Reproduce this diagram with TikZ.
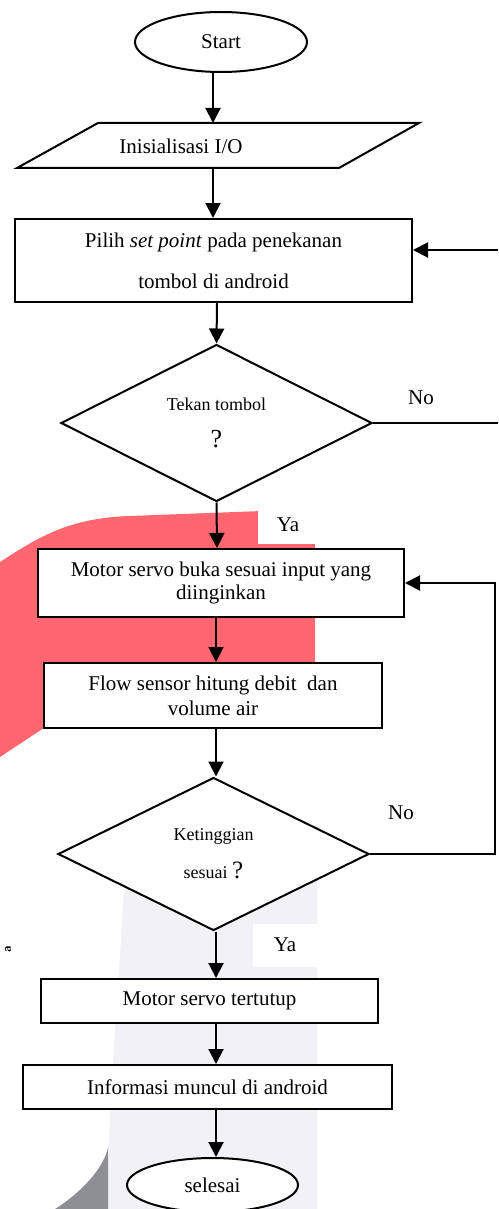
\documentclass[tikz,border=0pt]{standalone}
\usepackage{fontspec}
\setmainfont{Liberation Serif}
\usetikzlibrary{shapes.geometric,arrows.meta,calc}
\definecolor{wmred}{RGB}{255,102,112}
\definecolor{wmpale}{RGB}{241,241,246}
\definecolor{wmdark}{RGB}{142,142,149}
\tikzset{
  base/.style={draw, fill=white, line width=2pt, font=\fontsize{21}{25}\selectfont, inner sep=0pt, align=center},
  proc/.style={base, rectangle},
  term/.style={base, ellipse},
  dec/.style={base, diamond},
  arr/.style={line width=2pt, -{Triangle[length=15pt,width=15pt]}},
  line/.style={line width=2pt},
  lbl/.style={font=\fontsize{21}{25}\selectfont, inner sep=0pt},
  lblbox/.style={lbl, fill=white},
}
\begin{document}
\begin{tikzpicture}[x=1pt,y=-1pt]
\clip (0,0) rectangle (498,1209);
\fill[white] (0,0) rectangle (498,1209);
% watermark
\fill[wmred] (0,562) .. controls (40,536) and (70,518) .. (130,516) -- (315,509) -- (315,663) -- (142,663) -- (0,757) -- cycle;
\fill[wmpale] (317,883) -- (140,883) .. controls (126,883) and (123,892) .. (123,905) .. controls (118,1000) and (108,1100) .. (108,1209) -- (317,1209) -- cycle;
\fill[wmdark] (108,1147) -- (108,1209) -- (55,1209) .. controls (85,1190) and (105,1165) .. (108,1147) -- cycle;
\node[rotate=90, font=\sffamily\bfseries\fontsize{12}{12}\selectfont, inner sep=0pt] (wa) at (8,949) {a};

% columns
\coordinate (c1) at (213,0);
\coordinate (c2) at (217,0);
\coordinate (c3) at (216,0);
\coordinate (rx) at (498,0);
\coordinate (lx) at (495,0);

% nodes
\node[term, minimum width=172, minimum height=60] (start) at (221,42) {Start};
\draw[line, fill=white] (17,168) -- (98,123) -- (419,123) -- (339,168) -- cycle;
\coordinate (ioT) at (218,123);
\coordinate (ioB) at (218,168);
\node[lbl] (io) at (181,146) {Inisialisasi I/O};
\node[proc, minimum width=397, minimum height=83, font=\fontsize{21}{41}\selectfont] (p1) at (213.5,260.5) {Pilih \textit{set point} pada penekanan\\tombol di android};
\node[dec, minimum width=311, minimum height=157, font=\fontsize{21}{37}\selectfont] (d1) at (216.5,423) {{\fontsize{18}{37}\selectfont Tekan tombol}\\{\fontsize{26}{37}\selectfont ?}};
\node[proc, minimum width=366, minimum height=68, font=\fontsize{21}{23}\selectfont] (p2) at (221,583) {Motor servo buka sesuai input yang\\diinginkan};
\node[proc, minimum width=338, minimum height=65] (p3) at (213,695.5) {Flow sensor hitung debit\ \ dan\\volume air};
\node[dec, minimum width=311, minimum height=153, font=\fontsize{21}{38}\selectfont] (d2) at (213.5,854) {{\fontsize{18}{38}\selectfont Ketinggian}\\{\fontsize{18}{38}\selectfont sesuai }{\fontsize{25}{38}\selectfont ?}};
\node[proc, minimum width=337, minimum height=44] (p4) at (209.5,1001) {Motor servo tertutup};
\node[proc, minimum width=369, minimum height=44] (p5) at (207.5,1087) {Informasi muncul di android};
\node[term, minimum width=171, minimum height=54] (stop) at (212.5,1185) {selesai};

% labels
\node[lbl] (no1) at (421,398) {No};
\node[lblbox, minimum width=60, minimum height=38] (ya1) at (288,525) {Ya};
\node[lbl] (no2) at (401,813) {No};
\node[lblbox, minimum width=64, minimum height=43] (ya2) at (285,945) {Ya};

% connectors
\draw[arr] (start.south -| c1) -- (ioT -| c1);
\draw[arr] (ioB -| c1) -- (p1.north -| c1);
\draw[arr] (p1.south -| c2) -- (d1.north);
\draw[arr] (d1.south) -- (p2.north -| c2);
\coordinate (r1) at (d1.east -| rx);
\coordinate (r2) at (498,250);
\draw[line] (d1.east) -- (r1);
\draw[arr] (r2) -- (r2 -| p1.east);
\draw[arr] (p2.south -| c3) -- (p3.north -| c3);
\draw[arr] (p3.south -| c3) -- (d2.north -| c3);
\draw[arr] (d2.east) -- (d2.east -| lx) -- (p2.east -| lx) -- (p2.east);
\draw[arr] (d2.south -| c3) -- (p4.north -| c3);
\draw[arr] (p4.south -| c3) -- (p5.north -| c3);
\draw[arr] (p5.south -| c3) -- (stop.north -| c3);
\end{tikzpicture}
\end{document}
